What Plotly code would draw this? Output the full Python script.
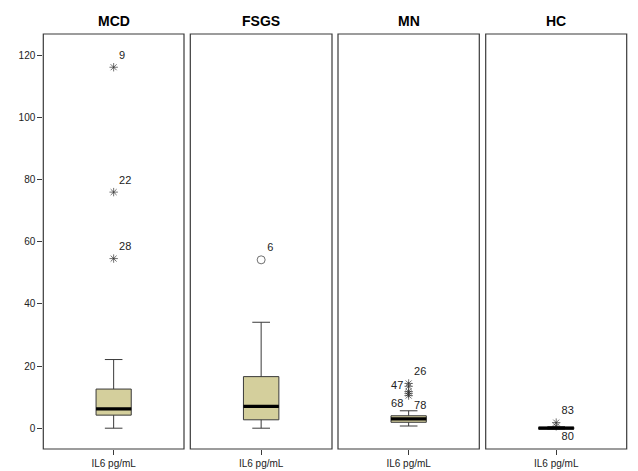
import plotly.graph_objects as go

groups = ["MCD", "FSGS", "MN", "HC"]
q1 = [4.2, 2.7, 1.9, -0.3]
median = [6.2, 7.0, 3.0, 0.0]
q3 = [12.6, 16.6, 4.0, 0.3]
lowerfence = [0.0, 0.0, 0.7, -0.3]
upperfence = [22.1, 34.1, 5.6, 0.5]

# outliers: (group index, value, case label, kind, label position)
out_group = [0, 0, 0, 1, 2, 2, 2, 2, 2, 3, 3]
out_value = [116.2, 76.0, 54.6, 54.2, 14.4, 13.5, 11.8, 11.2, 10.5, 1.8, 0.6]
out_label = ["9", "22", "28", "6", "26", "47", "", "68", "78", "83", "80"]
out_kind = ["extreme", "extreme", "extreme", "outlier", "extreme", "extreme",
            "extreme", "extreme", "extreme", "extreme", "extreme"]
out_pos = ["top right", "top right", "top right", "top right", "top right",
           "middle left", "top right", "bottom left", "bottom right",
           "top right", "bottom right"]

x_label = "IL6 pg/mL"
y_ticks = [0, 20, 40, 60, 80, 100, 120]

fill = "#d4cf9c"
edge = "#3a3a3a"
bw = 0.25

W, H = 638, 471
ml, mr, mt, mb = 43, 11, 34, 22
pw = W - ml - mr
panels_px = [(43.3, 184.0), (190.3, 332.0), (338.0, 479.3), (485.7, 626.7)]
domains = [((a - ml) / pw, (b - ml) / pw) for a, b in panels_px]

fig = go.Figure()
for i, g in enumerate(groups):
    xa = "x" if i == 0 else f"x{i+1}"
    idx = [k for k in range(len(out_group)) if out_group[k] == i]
    fig.add_trace(go.Scatter(
        x=[0] * len(idx), y=[out_value[k] for k in idx],
        mode="markers+text",
        text=[out_label[k] for k in idx],
        textposition=[out_pos[k] for k in idx],
        textfont=dict(family="Liberation Sans, Arial", size=11, color="#222"),
        marker=dict(
            symbol=["asterisk-open" if out_kind[k] == "extreme" else "circle-open" for k in idx],
            size=[7 if out_kind[k] == "extreme" else 8 for k in idx],
            color="#333", line=dict(color="#333", width=1)),
        xaxis=xa, yaxis="y", showlegend=False, hoverinfo="skip", cliponaxis=False))
    fig.add_trace(go.Box(
        x=[0], q1=[q1[i]], median=[median[i]], q3=[q3[i]],
        lowerfence=[lowerfence[i]], upperfence=[upperfence[i]],
        width=bw, whiskerwidth=0.5, fillcolor=fill,
        line=dict(color=edge, width=1), boxpoints=False,
        xaxis=xa, yaxis="y", showlegend=False, hoverinfo="skip"))
    fig.add_trace(go.Scatter(
        x=[-bw / 2, bw / 2], y=[median[i], median[i]], mode="lines",
        line=dict(color="black", width=3.2), xaxis=xa, yaxis="y",
        showlegend=False, hoverinfo="skip"))

layout = dict(
    template="none",
    width=W, height=H, margin=dict(l=ml, r=mr, t=mt, b=mb, autoexpand=False),
    plot_bgcolor="white", paper_bgcolor="white",
    font=dict(family="Liberation Sans, Arial", size=10, color="#222"),
    yaxis=dict(range=[-6.7, 126.9], tickvals=y_ticks, ticks="outside", ticklen=5,
               tickcolor=edge, showgrid=False, zeroline=False, showline=False,
               automargin=False, tickfont=dict(size=10, color="#222")),
)
annotations = []
shapes = []
for i, g in enumerate(groups):
    key = "xaxis" if i == 0 else f"xaxis{i+1}"
    layout[key] = dict(domain=list(domains[i]), range=[-0.5, 0.5],
                       tickvals=[0], ticktext=[x_label], ticks="outside", ticklen=5,
                       tickcolor=edge, showgrid=False, zeroline=False,
                       showline=False, automargin=False,
                       tickfont=dict(size=10, color="#222"), fixedrange=True)
    annotations.append(dict(text=f"<b>{g}</b>", x=(domains[i][0] + domains[i][1]) / 2,
                            y=1, xref="paper", yref="paper", xanchor="center",
                            yanchor="bottom", yshift=3, showarrow=False,
                            font=dict(size=14, color="black", family="Liberation Sans, Arial")))
    shapes.append(dict(type="rect", xref="paper", yref="paper",
                       x0=domains[i][0], x1=domains[i][1], y0=0, y1=1,
                       line=dict(color=edge, width=1.2), layer="above"))
layout["annotations"] = annotations
layout["shapes"] = shapes
fig.update_layout(**layout)
fig.write_html("out.html", config={"displayModeBar": False},
               post_script="document.body.style.margin='0';document.body.style.padding='0';")
